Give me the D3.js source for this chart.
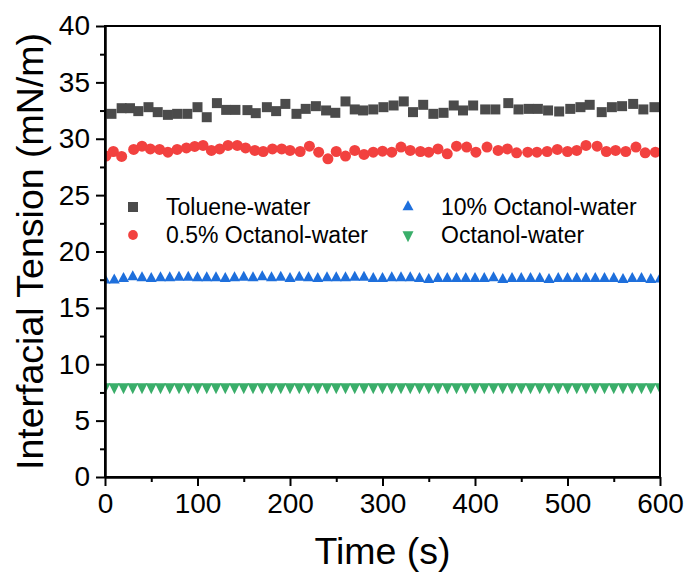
<!DOCTYPE html>
<html lang="en">
<head>
<meta charset="utf-8">
<title>Interfacial Tension</title>
<style>
  body { margin: 0; background: #fff; }
  .axis path, .axis line { stroke: #000; stroke-width: 2; }
  .axis text { font-family: Arial, "Liberation Sans", sans-serif; font-size: 28px; fill: #000; }
  .frame { fill: none; stroke: #000; stroke-width: 2; }
  .title { font-family: Arial, "Liberation Sans", sans-serif; font-size: 37.5px; fill: #000; }
  .legend text { font-family: Arial, "Liberation Sans", sans-serif; font-size: 23px; fill: #000; }
</style>
<script src="https://d3js.org/d3.v7.min.js"></script>
</head>
<body>
<svg id="chart" width="688" height="578"></svg>
<script>
// ---- data ----
// Toluene-water (squares)
var tolueneTime = [7, 18, 27, 36, 47, 57, 68, 78, 89, 100, 110, 121, 131, 141, 154, 163, 175, 185, 195,
  207, 217, 228, 239, 249, 260, 270, 279, 290, 301, 312, 323, 333, 344, 355, 366, 377, 387, 398,
  411, 422, 436, 447, 458, 468, 479, 491, 503, 514, 524, 537, 548, 559, 571, 582, 594];
var tolueneIT = [32.21, 32.71, 32.71, 32.45, 32.80, 32.36, 32.12, 32.21, 32.21, 32.80, 31.91, 33.16, 32.56, 32.56, 32.54, 32.27, 32.80, 32.45, 33.09,
  32.21, 32.65, 32.89, 32.51, 32.30, 33.31, 32.60, 32.51, 32.60, 32.80, 32.95, 33.31, 32.36, 33.01, 32.21, 32.30, 32.95, 32.51, 32.95,
  32.60, 32.60, 33.16, 32.60, 32.65, 32.65, 32.51, 32.42, 32.65, 32.80, 33.01, 32.36, 32.80, 32.89, 33.09, 32.60, 32.80];

// 0.5% Octanol-water (circles)
var lowOctTime = [1, 9, 18, 31, 40, 49, 59, 68, 78, 88, 97, 106, 115, 124, 133, 143, 152, 162, 171, 181, 191, 200,
  211, 221, 231, 241, 250, 260, 270, 280, 290, 300, 310, 320, 330, 341, 350, 360, 370, 380, 391, 401,
  413, 425, 435, 445, 457, 467, 478, 489, 500, 510, 520, 532, 542, 552, 563, 574, 584, 595];
var lowOctIT = [28.46, 28.87, 28.43, 29.05, 29.34, 29.10, 29.05, 28.81, 29.05, 29.19, 29.32, 29.41, 28.96, 29.10, 29.41, 29.41, 29.19, 28.96, 28.87, 29.10, 29.10, 28.96,
  28.87, 29.34, 28.81, 28.22, 28.87, 28.46, 28.96, 28.61, 28.81, 28.90, 28.81, 29.26, 28.96, 28.87, 28.81, 29.10, 28.66, 29.34, 29.26, 28.81,
  29.26, 28.96, 29.10, 28.75, 28.81, 28.81, 28.87, 29.05, 28.87, 28.96, 29.41, 29.34, 28.87, 28.96, 28.87, 29.26, 28.75, 28.81];

// 10% Octanol-water (up triangles) and Octanol-water (down triangles)
var gridTime = [0, 10, 20, 30, 40, 50, 60, 70, 80, 90, 100, 110, 120, 130, 140, 150, 160, 170, 180, 190,
  200, 210, 220, 230, 240, 250, 260, 270, 280, 290, 300, 310, 320, 330, 340, 350, 360, 370, 380, 390,
  400, 410, 420, 430, 440, 450, 460, 470, 480, 490, 500, 510, 520, 530, 540, 550, 560, 570, 580, 590, 600];
var highOctIT = [17.45, 17.45, 17.6, 17.75, 17.65, 17.6, 17.65, 17.65, 17.7, 17.7,
  17.65, 17.65, 17.65, 17.6, 17.65, 17.7, 17.65, 17.75, 17.65, 17.7,
  17.6, 17.7, 17.65, 17.6, 17.65, 17.65, 17.65, 17.7, 17.7, 17.6, 17.6,
  17.65, 17.65, 17.65, 17.6, 17.5, 17.6, 17.6, 17.6, 17.6, 17.6,
  17.6, 17.65, 17.5, 17.6, 17.6, 17.6, 17.6, 17.5, 17.6, 17.6,
  17.6, 17.6, 17.6, 17.6, 17.6, 17.5, 17.6, 17.6, 17.5, 17.55];
var octIT = [8.0, 7.98, 8.0, 8.0, 7.98, 8.0, 8.0, 8.0, 7.98, 8.0,
  8.0, 8.0, 7.98, 8.0, 8.0, 8.0, 8.0, 7.98, 8.0, 8.0,
  8.0, 7.98, 8.0, 8.0, 8.0, 8.0, 8.0, 7.98, 8.0, 8.0,
  8.0, 8.0, 8.0, 7.98, 8.0, 8.0, 8.0, 8.0, 8.0, 7.98,
  8.0, 8.0, 8.0, 8.0, 7.98, 8.0, 8.0, 8.0, 8.0, 8.0,
  7.98, 8.0, 8.0, 8.0, 8.0, 8.0, 7.98, 8.0, 8.0, 8.0, 8.0];

var xTicks = [0, 100, 200, 300, 400, 500, 600];
var xMinor = [50, 150, 250, 350, 450, 550];
var yTicks = [0, 5, 10, 15, 20, 25, 30, 35, 40];
var yMinor = [2.5, 7.5, 12.5, 17.5, 22.5, 27.5, 32.5, 37.5];

var seriesNames = ["Toluene-water", "0.5% Octanol-water", "10% Octanol-water", "Octanol-water"];
var seriesColors = ["#4b4b4b", "#f2413f", "#1e6fdc", "#3aae6a"];

// ---- layout ----
var margin = {top: 26, right: 28, bottom: 101, left: 105};
var width = 688 - margin.left - margin.right;
var height = 578 - margin.top - margin.bottom;

var svg = d3.select("#chart");
svg.append("rect").attr("width", 688).attr("height", 578).attr("fill", "#fff");

var xScale = d3.scaleLinear().domain([0, 600]).range([margin.left, margin.left + width]);
var yScale = d3.scaleLinear().domain([0, 40]).range([margin.top + height, margin.top]);

// marker shapes
var triUp = {draw: function(ctx, s) { var w = 11, h = 10;
  ctx.moveTo(0, -2 * h / 3); ctx.lineTo(w / 2, h / 3); ctx.lineTo(-w / 2, h / 3); ctx.closePath(); }};
var triDown = {draw: function(ctx, s) { var w = 11, h = 11;
  ctx.moveTo(0, 2 * h / 3); ctx.lineTo(w / 2, -h / 3); ctx.lineTo(-w / 2, -h / 3); ctx.closePath(); }};
var sq = {draw: function(ctx, s) { ctx.rect(-5, -5, 10, 10); }};

svg.append("clipPath").attr("id", "plot-clip")
  .append("rect")
  .attr("x", margin.left).attr("y", margin.top)
  .attr("width", width).attr("height", height);

var plot = svg.append("g").attr("clip-path", "url(#plot-clip)");

function zip(t, v) { return t.map(function(d, i) { return {t: d, v: v[i]}; }); }

// squares
plot.append("g").selectAll("path")
  .data(zip(tolueneTime, tolueneIT))
  .enter().append("path")
  .attr("d", d3.symbol().type(sq))
  .attr("transform", function(d) { return "translate(" + xScale(d.t) + "," + yScale(d.v) + ")"; })
  .attr("fill", seriesColors[0]);

// circles
plot.append("g").selectAll("circle")
  .data(zip(lowOctTime, lowOctIT))
  .enter().append("circle")
  .attr("cx", function(d) { return xScale(d.t); })
  .attr("cy", function(d) { return yScale(d.v); })
  .attr("r", 5.5)
  .attr("fill", seriesColors[1]);

// up triangles
plot.append("g").selectAll("path")
  .data(zip(gridTime, highOctIT))
  .enter().append("path")
  .attr("d", d3.symbol().type(triUp))
  .attr("transform", function(d) { return "translate(" + xScale(d.t) + "," + yScale(d.v) + ")"; })
  .attr("fill", seriesColors[2]);

// down triangles
plot.append("g").selectAll("path")
  .data(zip(gridTime, octIT))
  .enter().append("path")
  .attr("d", d3.symbol().type(triDown))
  .attr("transform", function(d) { return "translate(" + xScale(d.t) + "," + yScale(d.v) + ")"; })
  .attr("fill", seriesColors[3]);

// ---- axes ----
svg.append("g")
  .attr("class", "axis")
  .attr("transform", "translate(0," + (margin.top + height) + ")")
  .call(d3.axisBottom(xScale).tickValues(xTicks).tickSize(9).tickSizeOuter(0).tickPadding(7));
svg.append("g")
  .attr("class", "axis")
  .attr("transform", "translate(0," + (margin.top + height) + ")")
  .call(d3.axisBottom(xScale).tickValues(xMinor).tickSize(5).tickSizeOuter(0).tickFormat(""));

svg.append("g")
  .attr("class", "axis")
  .attr("transform", "translate(" + margin.left + ",0)")
  .call(d3.axisLeft(yScale).tickValues(yTicks).tickSize(9).tickSizeOuter(0).tickPadding(6));
svg.append("g")
  .attr("class", "axis")
  .attr("transform", "translate(" + margin.left + ",0)")
  .call(d3.axisLeft(yScale).tickValues(yMinor).tickSize(5).tickSizeOuter(0).tickFormat(""));

svg.append("rect")
  .attr("class", "frame")
  .attr("x", margin.left).attr("y", margin.top)
  .attr("width", width).attr("height", height);

// axis titles
svg.append("text")
  .attr("class", "title")
  .attr("x", margin.left + width / 2)
  .attr("y", 564)
  .style("text-anchor", "middle")
  .text("Time (s)");

svg.append("text")
  .attr("class", "title")
  .attr("transform", "translate(43," + (margin.top + height / 2) + ") rotate(-90)")
  .style("text-anchor", "middle")
  .text("Interfacial Tension (mN/m)");

// ---- legend ----
var legendItems = [
  {name: seriesNames[0], color: seriesColors[0], shape: sq, x: 133, y: 207},
  {name: seriesNames[1], color: seriesColors[1], shape: d3.symbolCircle, x: 133, y: 235},
  {name: seriesNames[2], color: seriesColors[2], shape: triUp, x: 408, y: 207},
  {name: seriesNames[3], color: seriesColors[3], shape: triDown, x: 408, y: 235}
];
var legend = svg.append("g").attr("class", "legend");
var li = legend.selectAll("g").data(legendItems).enter().append("g")
  .attr("transform", function(d) { return "translate(" + d.x + "," + d.y + ")"; });
li.append("path")
  .attr("d", function(d) { return d3.symbol().type(d.shape).size(75)(); })
  .attr("fill", function(d) { return d.color; });
li.append("text")
  .attr("x", 33)
  .attr("y", 8)
  .text(function(d) { return d.name; });
</script>
</body>
</html>
